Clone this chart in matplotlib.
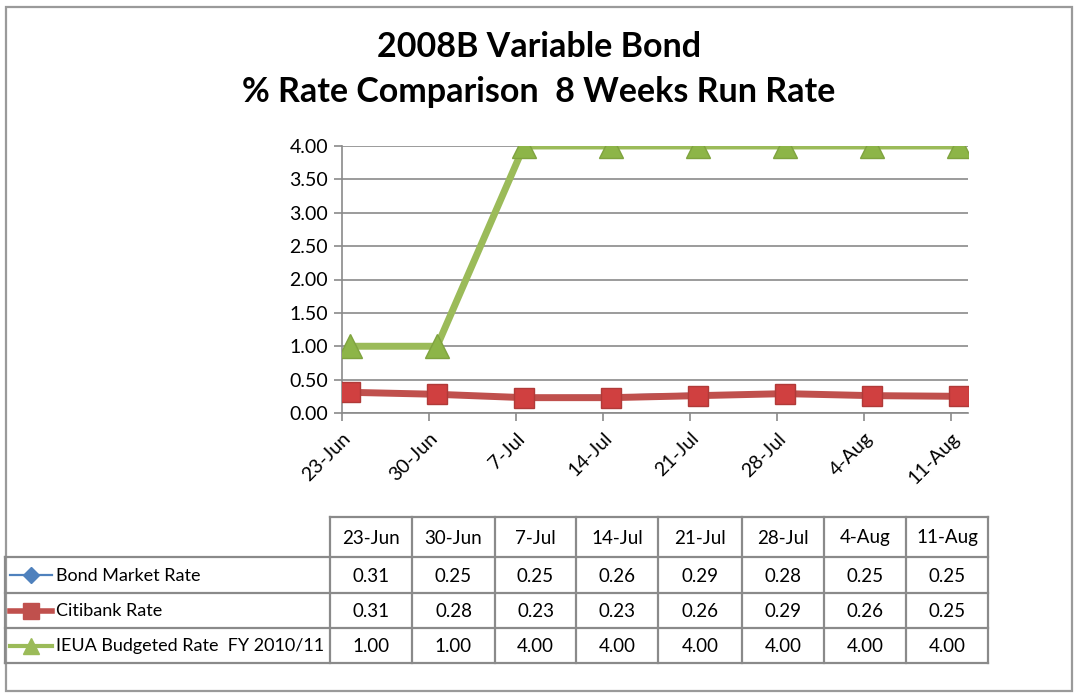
import numpy as np
import matplotlib
matplotlib.use("Agg")
import matplotlib.pyplot as plt
from matplotlib.lines import Line2D
from matplotlib.patches import Rectangle

# ---- data ----
dates = ["23-Jun", "30-Jun", "7-Jul", "14-Jul", "21-Jul", "28-Jul", "4-Aug", "11-Aug"]
bond_market = [0.31, 0.25, 0.25, 0.26, 0.29, 0.28, 0.25, 0.25]
citibank = [0.31, 0.28, 0.23, 0.23, 0.26, 0.29, 0.26, 0.25]
ieua_budget = [1.00, 1.00, 4.00, 4.00, 4.00, 4.00, 4.00, 4.00]
series_names = ["Bond Market Rate", "Citibank Rate", "IEUA Budgeted Rate  FY 2010/11"]
title_lines = ["2008B Variable Bond", "% Rate Comparison  8 Weeks Run Rate"]
y_ticks = [0.0, 0.5, 1.0, 1.5, 2.0, 2.5, 3.0, 3.5, 4.0]

plt.rcParams['font.family'] = ['Lato', 'DejaVu Sans']

W, H = 1074, 700
fig = plt.figure(figsize=(W / 100, H / 100), dpi=100)

def fx(px):
    return px / W

def fy(py):
    return 1 - py / H

GRID = "#8a8a8a"
BLUE = "#4F81BD"
RED = "#C0504D"
GREEN = "#9BBB59"

# outer frame
fig.patches.append(Rectangle((fx(6), fy(691)), fx(1072) - fx(6), fy(7) - fy(691),
                             transform=fig.transFigure, fill=False,
                             edgecolor="#9a9a9a", linewidth=1.6))

# title
fig.text(fx(539), fy(47), title_lines[0], ha="center", va="center",
         fontsize=24.5, fontweight="bold")
fig.text(fx(539), fy(92), title_lines[1], ha="center", va="center",
         fontsize=24.5, fontweight="bold")

# main axes
ax = fig.add_axes([fx(342), fy(413), fx(968) - fx(342), fy(146) - fy(413)])
x = np.arange(len(dates))
off = 8 / 87.0
ax.set_xlim(-off, len(dates) - 1 + 9 / 87.0)
ax.set_ylim(0, 4)
ax.set_yticks(y_ticks)
ax.set_yticklabels([f"{v:.2f}" for v in y_ticks], fontsize=14)
ax.yaxis.grid(True, color=GRID, linewidth=1.2)
ax.set_axisbelow(True)
ax.set_xticks(x - off)
ax.set_xticklabels(dates, rotation=45, ha="right", rotation_mode="anchor", fontsize=14)
ax.tick_params(axis="x", length=6, color=GRID, width=1.2, pad=6)
ax.tick_params(axis="y", length=6, color=GRID, width=1.2, pad=4)
for s in ["top", "right"]:
    ax.spines[s].set_visible(False)
for s in ["left", "bottom"]:
    ax.spines[s].set_color(GRID)
    ax.spines[s].set_linewidth(1.2)

ax.plot(x, bond_market, color=BLUE, linewidth=1.6, marker="D", markersize=8,
        markerfacecolor=BLUE, markeredgecolor=BLUE, zorder=3)
ax.plot(x, citibank, color=RED, linewidth=5, marker="s", markersize=15,
        markerfacecolor="#D04040", markeredgecolor="#B03A38", zorder=4)
ax.plot(x, ieua_budget, color=GREEN, linewidth=5, marker="^", markersize=17,
        markerfacecolor="#8DB548", markeredgecolor="#7FA33F", zorder=3)

# data table
col_edges = [330, 412, 495, 576, 658, 742, 824, 906, 988]
row_edges = [517, 557, 593, 628, 663]
lw = 1.6
def hline(y, x0, x1):
    fig.add_artist(Line2D([fx(x0), fx(x1)], [fy(y), fy(y)], transform=fig.transFigure,
                          color=GRID, linewidth=lw))

def vline(xp, y0, y1):
    fig.add_artist(Line2D([fx(xp), fx(xp)], [fy(y0), fy(y1)], transform=fig.transFigure,
                          color=GRID, linewidth=lw))

hline(row_edges[0], col_edges[0], col_edges[-1])
for r in row_edges[1:]:
    hline(r, 5, col_edges[-1])
for c in col_edges:
    vline(c, row_edges[0], row_edges[-1])
vline(5, row_edges[1], row_edges[-1])

for i, d in enumerate(dates):
    cx = (col_edges[i] + col_edges[i + 1]) / 2
    fig.text(fx(cx), fy((row_edges[0] + row_edges[1]) / 2 + 1), d, ha="center", va="center", fontsize=13.5)

rows = [bond_market, citibank, ieua_budget]
styles = [(BLUE, 1.6, "D", 8), (RED, 4.0, "s", 11), (GREEN, 3.0, "^", 11)]
for r, (vals, name, st) in enumerate(zip(rows, series_names, styles)):
    cy = (row_edges[r + 1] + row_edges[r + 2]) / 2
    color, lwid, mk, ms = st
    fig.add_artist(Line2D([fx(10), fx(52)], [fy(cy), fy(cy)], transform=fig.transFigure,
                          color=color, linewidth=lwid))
    fig.add_artist(Line2D([fx(31)], [fy(cy)], transform=fig.transFigure, color=color,
                          marker=mk, markersize=ms, linestyle="none"))
    fig.text(fx(56), fy(cy + 1), name, ha="left", va="center", fontsize=13)
    for i, v in enumerate(vals):
        cx = (col_edges[i] + col_edges[i + 1]) / 2
        fig.text(fx(cx), fy(cy + 1), f"{v:.2f}", ha="center", va="center", fontsize=13.5)

fig.savefig("out.png", dpi=100, facecolor="white")
